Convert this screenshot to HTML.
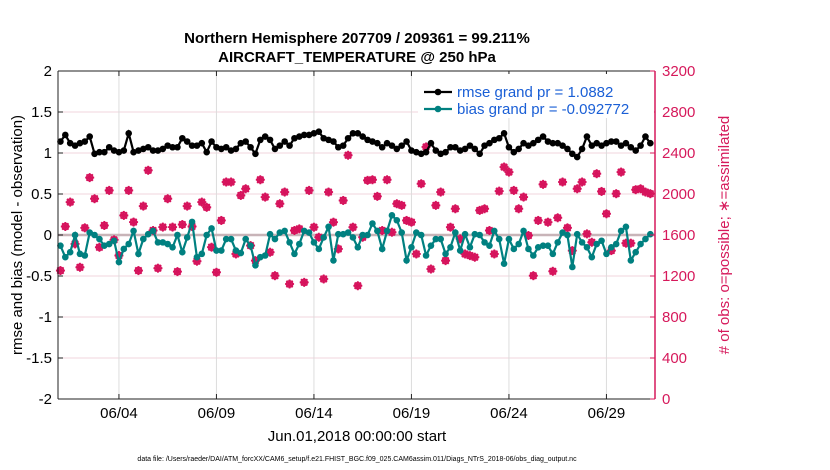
<!DOCTYPE html>
<html><head><meta charset="utf-8">
<style>
html,body{margin:0;padding:0;background:#fff;}
svg{display:block;font-family:"Liberation Sans",Arial,sans-serif;}
</style></head>
<body>
<svg id="chart" width="830" height="470" viewBox="0 0 830 470">
  <text x="357" y="43" text-anchor="middle" font-size="15" font-weight="bold">Northern Hemisphere 207709 / 209361 = 99.211%</text>
  <text x="357" y="62" text-anchor="middle" font-size="15" font-weight="bold">AIRCRAFT_TEMPERATURE @ 250 hPa</text>
  <g id="grid"></g>
  <g id="marks"></g>
  <g id="axes"></g>
  <text transform="translate(22,235) rotate(-90)" text-anchor="middle" font-size="15">rmse and bias (model - observation)</text>
  <text transform="translate(729,235) rotate(-90)" text-anchor="middle" font-size="15" fill="#d6195b"># of obs: o=possible; ∗=assimilated</text>
  <text x="357" y="441" text-anchor="middle" font-size="15">Jun.01,2018 00:00:00 start</text>
  <text x="357" y="461" text-anchor="middle" font-size="7">data file: /Users/raeder/DAI/ATM_forcXX/CAM6_setup/f.e21.FHIST_BGC.f09_025.CAM6assim.011/Diags_NTrS_2018-06/obs_diag_output.nc</text>
  <g id="legend"></g>
</svg>
<script>
const leftTicks = [2,1.5,1,0.5,0,-0.5,-1,-1.5,-2];
const leftTickLabels = ["2","1.5","1","0.5","0","-0.5","-1","-1.5","-2"];
const rightTicks = [0,400,800,1200,1600,2000,2400,2800,3200];
const dateTicks = [3,8,13,18,23,28];
const dateLabels = ["06/04","06/09","06/14","06/19","06/24","06/29"];
const rmse = [1.14,1.22,1.12,1.09,1.12,1.14,1.20,0.99,1.01,1.01,1.07,1.03,1.01,1.03,1.24,1.01,1.03,1.05,1.07,1.03,1.03,1.05,1.09,1.07,1.07,1.18,1.14,1.09,1.09,1.12,1.01,
1.14,1.07,1.05,1.07,1.03,1.05,1.12,1.14,1.07,0.99,1.16,1.20,1.16,1.05,1.09,1.14,1.09,1.18,1.20,1.22,1.22,1.24,1.26,1.18,1.16,1.14,1.07,1.09,1.18,1.24,
1.24,1.20,1.16,1.14,1.12,1.07,1.12,1.09,1.05,1.09,1.14,1.03,1.01,0.99,1.01,1.12,1.03,0.99,1.01,1.07,1.07,1.03,1.05,1.09,1.05,0.99,1.09,1.12,1.16,1.18,1.24,
1.07,1.01,1.05,1.12,1.09,1.12,1.16,1.20,1.14,1.12,1.12,1.09,1.05,0.99,0.95,1.05,1.20,1.09,1.12,1.09,1.12,1.14,1.14,1.09,1.12,1.07,1.03,1.09,1.20,1.12];
const bias = [-0.13,-0.27,-0.21,0.0,-0.23,-0.25,0.03,0.0,-0.05,-0.13,-0.11,-0.07,-0.33,-0.17,-0.11,0.05,-0.23,-0.05,0.01,0.05,-0.09,-0.09,-0.11,-0.15,0.0,-0.21,-0.03,0.16,-0.27,-0.23,0.0,
0.08,-0.19,-0.19,-0.05,-0.05,-0.19,-0.22,-0.05,-0.13,-0.37,-0.27,-0.25,0.01,-0.05,0.03,0.05,-0.09,-0.23,-0.11,0.05,0.03,-0.09,-0.17,-0.03,0.10,-0.31,0.01,0.01,0.03,-0.03,
-0.15,0.0,0.0,0.14,0.05,-0.17,0.05,0.24,0.18,0.03,-0.31,-0.15,0.03,0.0,-0.25,-0.13,-0.05,-0.05,-0.23,-0.15,0.03,-0.19,0.01,-0.15,0.01,0.0,-0.09,-0.13,0.05,-0.05,-0.35,
-0.05,-0.17,-0.11,0.05,-0.17,-0.25,-0.15,-0.13,-0.13,-0.23,-0.09,0.03,0.0,-0.39,0.01,-0.09,-0.15,-0.27,-0.11,-0.07,-0.23,-0.15,-0.11,0.05,0.10,-0.31,-0.21,-0.11,-0.05,0.01];
const obsCount = [1253,1683,1921,1513,1285,1670,2160,1954,1480,1693,2035,1553,1400,1791,2035,1726,1253,1882,2231,1644,1276,1677,1954,1677,1243,1702,1882,1683,1344,1921,1870,
1481,1236,1742,2117,2117,1415,1986,2051,1497,1350,2139,1970,1432,1203,1905,2019,1122,1644,1660,1138,2035,1676,1578,1171,2019,1725,1464,1937,2378,1676,
1105,1578,2133,2139,1977,1644,2139,1627,1905,1889,1742,1725,1415,2100,2459,1268,1889,2019,1350,1676,1856,1562,1415,1399,1383,1840,1856,1644,1415,2028,2263,
2214,2035,1856,1970,1595,1203,1742,2094,1725,1246,1768,2117,1670,1448,2051,2117,1611,1529,2198,2025,1807,1448,2003,2214,1520,1520,2042,2051,2019,2003];
const stepDays = 0.25;

const NS="http://www.w3.org/2000/svg";
const L=58,R=655,T=71,B=399;
const xMin=-0.125,xMax=30.49;
function xs(t){return L+(t-xMin)/(xMax-xMin)*(R-L);}
function yl(v){return B-(v+2)/4*(B-T);}
function yr(c){return B-c/3200*(B-T);}
function mk(tag,attrs,parent){const e=document.createElementNS(NS,tag);for(const k in attrs)e.setAttribute(k,attrs[k]);parent.appendChild(e);return e;}
const grid=document.getElementById('grid'),marks=document.getElementById('marks'),axes=document.getElementById('axes'),legend=document.getElementById('legend');

mk('rect',{x:L,y:T,width:R-L,height:B-T,fill:'#fff'},grid);
leftTicks.forEach(v=>{if(v===2||v===-2)return;const g=mk('line',{x1:L,x2:R,y1:yl(v),y2:yl(v),stroke:'#f0d4dc','stroke-width':1},grid);

});
dateTicks.forEach(d=>{const g=mk('line',{x1:xs(d),x2:xs(d),y1:T,y2:B,stroke:'#dcdcdc','stroke-width':1},grid);

});
const zl=mk('line',{x1:L,x2:R,y1:yl(0),y2:yl(0),stroke:'#c8b4b8','stroke-width':2.5},grid);



// obs count markers
obsCount.forEach((c,i)=>{const x=xs(i*stepDays),y=yr(c);
const g=mk('g',{},marks);


mk('circle',{cx:x,cy:y,r:3.2,fill:'none',stroke:'#d6135c','stroke-width':1.4},g);
for(let a=0;a<4;a++){const ang=a*Math.PI/4,dx=4.5*Math.cos(ang),dy=4.5*Math.sin(ang);
mk('line',{x1:x-dx,y1:y-dy,x2:x+dx,y2:y+dy,stroke:'#d6135c','stroke-width':1.8},g);}
});
function series(vals,color,name){
  const pts=vals.map((v,i)=>xs(i*stepDays).toFixed(1)+','+yl(v).toFixed(1)).join(' ');
  const pl=mk('polyline',{points:pts,fill:'none',stroke:color,'stroke-width':2.2},marks);
  
  
  vals.forEach((v,i)=>{const c=mk('circle',{cx:xs(i*stepDays),cy:yl(v),r:3.3,fill:color},marks);
  
  });
}
series(bias,'#008080','bias');
series(rmse,'#000000','rmse');

// axes
mk('line',{x1:L,x2:R,y1:T,y2:T,stroke:'#222','stroke-width':1},axes);
mk('line',{x1:L,x2:R,y1:B,y2:B,stroke:'#222','stroke-width':1},axes);
mk('line',{x1:L,x2:L,y1:T,y2:B,stroke:'#222','stroke-width':1},axes);
mk('line',{x1:R,x2:R,y1:T,y2:B,stroke:'#d6195b','stroke-width':1.5},axes);
leftTicks.forEach((v,i)=>{mk('line',{x1:L,x2:L+5,y1:yl(v),y2:yl(v),stroke:'#222'},axes);
const t=mk('text',{x:L-6,y:yl(v)+5,'text-anchor':'end','font-size':15},axes);t.textContent=leftTickLabels[i];

});
rightTicks.forEach(c=>{mk('line',{x1:R-5,x2:R,y1:yr(c),y2:yr(c),stroke:'#d6195b'},axes);
const t=mk('text',{x:R+7,y:yr(c)+5,'font-size':15,fill:'#d6195b'},axes);t.textContent=String(c);

});
dateTicks.forEach((d,i)=>{mk('line',{x1:xs(d),x2:xs(d),y1:B,y2:B-5,stroke:'#222'},axes);mk('line',{x1:xs(d),x2:xs(d),y1:T,y2:T+5,stroke:'#222'},axes);
const t=mk('text',{x:xs(d),y:B+19,'text-anchor':'middle','font-size':15},axes);t.textContent=dateLabels[i];

});

// legend
mk('rect',{x:418,y:74,width:236,height:44,fill:'#fff'},legend);
[['rmse grand pr = 1.0882','#000',92,'legend-entry-rmse'],['bias grand pr = -0.092772','#008080',109,'legend-entry-bias']].forEach(e=>{
const g=mk('g',{},legend);


mk('line',{x1:424,x2:452,y1:e[2],y2:e[2],stroke:e[1],'stroke-width':2.2},g);
mk('circle',{cx:438,cy:e[2],r:3.3,fill:e[1]},g);
const t=mk('text',{x:457,y:e[2]+5,'font-size':15,fill:'#1a5fd6'},g);t.textContent=e[0];});
</script>
</body></html>
